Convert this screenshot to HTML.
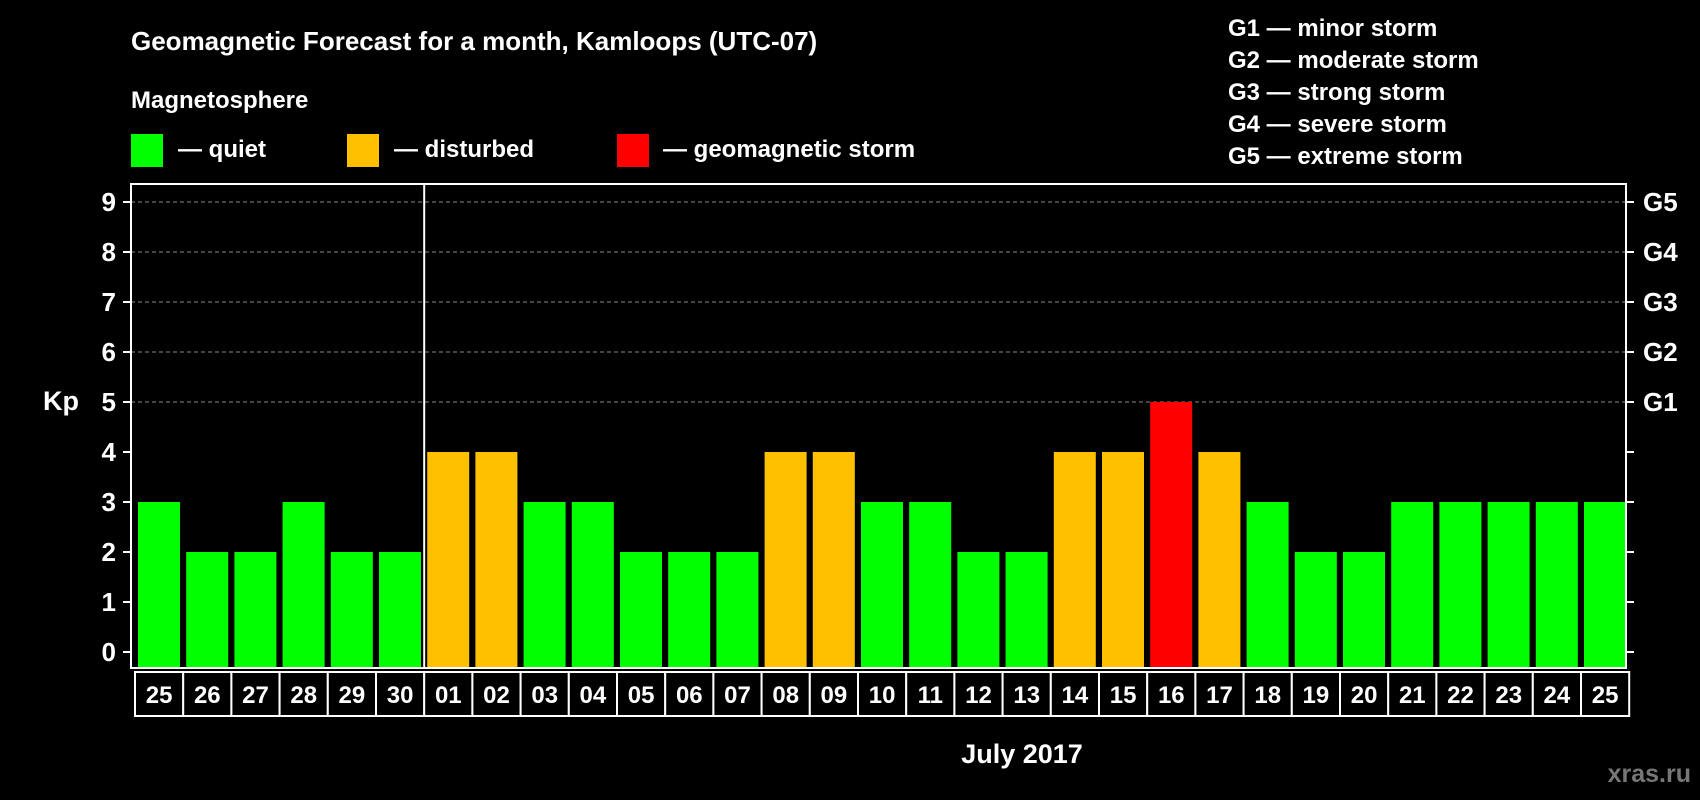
<!DOCTYPE html>
<html><head><meta charset="utf-8"><style>
body{margin:0;background:#000;width:1700px;height:800px;overflow:hidden}
svg{display:block;font-family:"Liberation Sans",Arial,sans-serif;font-weight:bold}
</style></head><body>
<svg id="c" width="1700" height="800" xmlns="http://www.w3.org/2000/svg">
<text x="131" y="50" fill="#fff" font-size="26">Geomagnetic Forecast for a month, Kamloops (UTC-07)</text>
<text x="131" y="108" fill="#fff" font-size="24">Magnetosphere</text>
<rect x="131" y="134" width="32" height="33" fill="#00ff00"/>
<text x="178" y="157" fill="#fff" font-size="24">— quiet</text>
<rect x="347" y="134" width="32" height="33" fill="#ffc000"/>
<text x="394" y="157" fill="#fff" font-size="24">— disturbed</text>
<rect x="617" y="134" width="32" height="33" fill="#ff0000"/>
<text x="663" y="157" fill="#fff" font-size="24">— geomagnetic storm</text>
<g fill="#fff" font-size="24">
<text x="1228" y="36">G1 — minor storm</text>
<text x="1228" y="68">G2 — moderate storm</text>
<text x="1228" y="100">G3 — strong storm</text>
<text x="1228" y="132">G4 — severe storm</text>
<text x="1228" y="164">G5 — extreme storm</text>
</g>
<text x="43" y="410" fill="#fff" font-size="27">Kp</text>
<text x="1022" y="763" fill="#fff" font-size="27" text-anchor="middle">July 2017</text>
<text x="1691" y="782" fill="#777" font-size="25" text-anchor="end">xras.ru</text>
<g id="plot"></g>
</svg>
<script>
const dates=["25","26","27","28","29","30","01","02","03","04","05","06","07","08","09","10","11","12","13","14","15","16","17","18","19","20","21","22","23","24","25"];
const kp=[3,2,2,3,2,2,4,4,3,3,2,2,2,4,4,3,3,2,2,4,4,5,4,3,2,2,3,3,3,3,3];
const yTicks=[0,1,2,3,4,5,6,7,8,9];
const gLabels=["G1","G2","G3","G4","G5"];
const NS="http://www.w3.org/2000/svg";
const g=document.getElementById('plot');
const L=131,R=1626,T=184,B=668,X0=138,STEP=48.2,BW=42;
const y=v=>652-v*50;
const x=i=>X0+i*STEP;
function mk(t,a){const e=document.createElementNS(NS,t);for(const k in a)e.setAttribute(k,a[k]);g.appendChild(e);return e;}
yTicks.forEach(v=>{
  if(v>=5){const l=mk('line',{x1:L,x2:R,y1:y(v),y2:y(v),stroke:'#888','stroke-dasharray':'4,3','stroke-width':1});
  
  }
  mk('line',{x1:L-8,x2:L,y1:y(v),y2:y(v),stroke:'#fff','stroke-width':2});
  mk('line',{x1:R,x2:R+8,y1:y(v),y2:y(v),stroke:'#fff','stroke-width':2});
  const t=mk('text',{x:116,y:y(v)+9,fill:'#fff','font-size':26,'text-anchor':'end'});t.textContent=v;
  
  
});
gLabels.forEach((s,i)=>{const t=mk('text',{x:1643,y:y(i+5)+9,fill:'#fff','font-size':26});t.textContent=s;
  
  });
kp.forEach((v,i)=>{
  const c=v>=5?'#ff0000':v>=4?'#ffc000':'#00ff00';
  const r=mk('rect',{x:x(i),y:y(v),width:BW,height:B-y(v),fill:c});
  
  
});
mk('rect',{x:L,y:T,width:R-L,height:B-T,fill:'none',stroke:'#fff','stroke-width':2});
const bx0=X0-3;
dates.forEach((d,i)=>{
  const r=mk('rect',{x:bx0+i*STEP,y:672,width:STEP,height:44,fill:'#000',stroke:'#fff','stroke-width':2});
  
  
  const t=mk('text',{x:bx0+i*STEP+STEP/2,y:703,fill:'#fff','font-size':24,'text-anchor':'middle'});t.textContent=d;
  
  
});
const sx=bx0+6*STEP;
const sep=mk('line',{x1:sx,x2:sx,y1:T,y2:B,stroke:'#fff','stroke-width':2});


</script>
</body></html>
